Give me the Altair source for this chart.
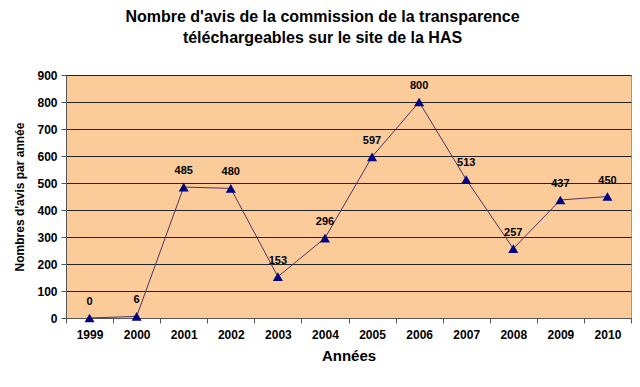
import altair as alt
import pandas as pd

years = ["1999", "2000", "2001", "2002", "2003", "2004", "2005", "2006", "2007", "2008", "2009", "2010"]
values = [0, 6, 485, 480, 153, 296, 597, 800, 513, 257, 437, 450]

df = pd.DataFrame({"annee": years, "avis": values})

FONT = "Liberation Sans"

x = alt.X("annee:O", title="Années",
          scale=alt.Scale(type="band", paddingInner=0, paddingOuter=0),
          axis=alt.Axis(labelAngle=0, tickBand="extent", labelFontSize=12, labelFontWeight="bold",
                        labelFont=FONT, labelColor="black", labelPadding=6,
                        titleFont=FONT, titleFontSize=15, titleFontWeight="bold", titleColor="black",
                        titlePadding=8, tickSize=5, tickColor="#555", domainColor="#555",
                        grid=False))
y = alt.Y("avis:Q", title="Nombres d'avis par année",
          scale=alt.Scale(domain=[0, 900], nice=False),
          axis=alt.Axis(values=list(range(0, 901, 100)), labelFontSize=12, labelFontWeight="bold",
                        labelFont=FONT, labelColor="black", labelPadding=4,
                        titleFont=FONT, titleFontSize=12, titleFontWeight="bold", titleColor="black",
                        titlePadding=10, tickSize=5, tickColor="#555", domainColor="#555",
                        grid=True, gridColor="#222", gridWidth=1, gridOpacity=1))

base = alt.Chart(df).encode(x=x, y=y)

line = base.mark_line(color="#4D3366", strokeWidth=1)
pts = base.mark_point(shape="triangle-up", filled=True, color="#000080", size=100, opacity=1)
labels = base.mark_text(dy=-16, font=FONT, fontSize=11, fontWeight="bold", color="black").encode(
    text="avis:Q")

chart = (line + pts + labels).properties(
    width=565, height=243,
    autosize=alt.AutoSizeParams(type="none"),
    padding={"left": 58, "top": 67, "right": 1, "bottom": 60},
    title=alt.TitleParams(
        ["Nombre d'avis de la commission de la transparence", "téléchargeables sur le site de la HAS"],
        font=FONT, fontSize=16, fontWeight="bold", color="black", anchor="middle",
        dx=-26, offset=23, lineHeight=21),
).configure_view(fill="#FCCB9A", stroke="#999999", strokeWidth=1)

chart.save("out.html", embed_options={"renderer": "svg", "actions": False})
